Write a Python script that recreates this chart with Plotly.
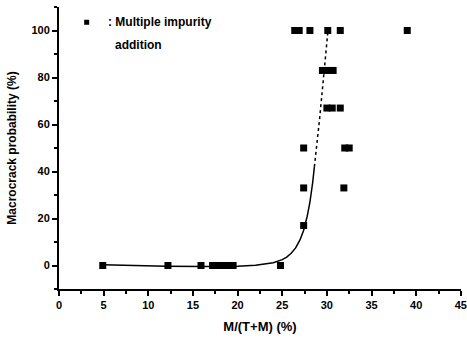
import plotly.graph_objects as go

# Measured data points (M/(T+M) %, macrocrack probability %)
pts_x = [4.9, 12.2, 15.9, 17.2, 17.8, 18.4, 19.0, 19.5, 24.8,
         27.4, 27.4, 27.4, 31.9,
         32.0, 32.5,
         30.0, 30.6, 31.5,
         29.5, 30.1, 30.7,
         26.4, 26.9, 28.1, 30.1, 31.5, 39.0]
pts_y = [0, 0, 0, 0, 0, 0, 0, 0, 0,
         17, 33, 50, 33,
         50, 50,
         67, 67, 67,
         83, 83, 83,
         100, 100, 100, 100, 100, 100]

# Fitted curve (solid part, then dotted part)
fit_x_solid = [4.9, 8, 12, 16, 20, 22, 23, 24, 25, 25.5, 26, 26.5, 27, 27.4, 27.8, 28.1, 28.4, 28.6]
fit_y_solid = [0.3, 0.0, -0.3, -0.4, -0.3, 0.1, 0.5, 1.2, 2.5, 3.6, 5.2, 7.5, 11, 15, 21, 27, 35, 42]
fit_x_dot = [28.6, 28.9, 29.2, 29.5, 29.8, 30.1]
fit_y_dot = [42, 52, 63, 75, 87, 99]

x_ticks = [0, 5, 10, 15, 20, 25, 30, 35, 40, 45]
y_ticks = [0, 20, 40, 60, 80, 100]

FONT = "Liberation Sans, Arial, sans-serif"

fig = go.Figure()
fig.add_trace(go.Scatter(x=fit_x_solid, y=fit_y_solid, mode="lines",
                         line=dict(color="black", width=1.5),
                         hoverinfo="skip", showlegend=False))
fig.add_trace(go.Scatter(x=fit_x_dot, y=fit_y_dot, mode="lines",
                         line=dict(color="black", width=1.5, dash="dot"),
                         hoverinfo="skip", showlegend=False))
fig.add_trace(go.Scatter(x=pts_x, y=pts_y, mode="markers",
                         marker=dict(symbol="square", size=7, color="black"),
                         showlegend=False))

# legend-like annotation
fig.add_trace(go.Scatter(x=[3.1], y=[103.5], mode="markers",
                         marker=dict(symbol="square", size=5, color="black"),
                         showlegend=False, hoverinfo="skip"))
fig.add_annotation(x=5.3, y=103.5, xref="x", yref="y", text=": Multiple impurity",
                   showarrow=False, xanchor="left", yanchor="middle",
                   font=dict(family=FONT, size=12, color="black", weight="bold"))
fig.add_annotation(x=6.0, y=94, xref="x", yref="y", text="addition",
                   showarrow=False, xanchor="left", yanchor="middle",
                   font=dict(family=FONT, size=12, color="black", weight="bold"))

fig.update_layout(
    width=467, height=340,
    margin=dict(l=59, r=6, t=7, b=51),
    paper_bgcolor="white", plot_bgcolor="white",
    font=dict(family=FONT, size=11, color="black", weight="bold"),
    xaxis=dict(range=[0, 45.02], tickvals=x_ticks, ticktext=[str(v) for v in x_ticks],
               automargin=False,
               showgrid=False, zeroline=False, showline=True, linecolor="black",
               linewidth=2, ticks="outside", ticklen=5, tickwidth=2, tickcolor="black",
               tickfont=dict(size=11, weight="bold"),
               minor=dict(dtick=2.5, ticks="outside", ticklen=3, tickwidth=1.5, tickcolor="black"),
               title=dict(text="M/(T+M) (%)", font=dict(size=13, weight="bold"), standoff=12)),
    yaxis=dict(range=[-10, 110], tickvals=y_ticks, ticktext=[str(v) for v in y_ticks],
               automargin=False,
               showgrid=False, zeroline=False, showline=True, linecolor="black",
               linewidth=2, ticks="outside", ticklen=5, tickwidth=2, tickcolor="black",
               tickfont=dict(size=11, weight="bold"),
               minor=dict(dtick=10, ticks="outside", ticklen=3, tickwidth=1.5, tickcolor="black"),
               title=dict(text="Macrocrack probability (%)", font=dict(size=12, weight="bold"), standoff=12)),
)

fig.write_html("out.html")
